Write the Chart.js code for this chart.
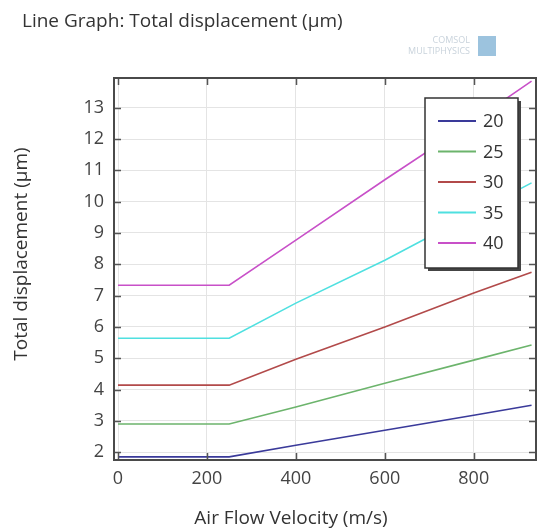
<!DOCTYPE html>
<html>
<head>
<meta charset="utf-8">
<script src="https://cdn.jsdelivr.net/npm/chart.js@4.4.0/dist/chart.umd.min.js"></script>
<style>
  html, body { margin: 0; padding: 0; background: #fff; }
  #wrap { width: 544px; height: 530px; position: relative; }
</style>
</head>
<body>
<div id="wrap"><canvas id="chart"></canvas></div>
<script>
const velocity = [0, 250, 400, 600, 800, 930];
const seriesNames = ['20', '25', '30', '35', '40'];
const disp20 = [1.85, 1.85, 2.22, 2.70, 3.18, 3.50];
const disp25 = [2.90, 2.90, 3.44, 4.20, 4.94, 5.42];
const disp30 = [4.14, 4.14, 4.97, 6.00, 7.08, 7.75];
const disp35 = [5.64, 5.64, 6.76, 8.13, 9.63, 10.60];
const disp40 = [7.33, 7.33, 8.77, 10.70, 12.58, 13.85];
const xTicks = [0, 200, 400, 600, 800];
const yTicks = [2, 3, 4, 5, 6, 7, 8, 9, 10, 11, 12, 13];
const colors = ['#3a3a9a', '#6cb46c', '#b24a4a', '#4fe0e0', '#c850c8'];

const allSeries = [disp20, disp25, disp30, disp35, disp40];
const datasets = allSeries.map((vals, i) => ({
  label: seriesNames[i],
  data: vals.map((v, j) => ({ x: velocity[j], y: v })),
  borderColor: colors[i],
  borderWidth: 1.6,
  pointRadius: 0,
  fill: false,
  tension: 0
}));

const fontFam = '"Open Sans", "DejaVu Sans", sans-serif';

// inward ticks on all four sides, frame, legend box, titles
const comsolDeco = {
  id: 'comsolDeco',
  afterDatasetsDraw(chart) {
    const ctx = chart.ctx;
    const a = chart.chartArea;
    const xs = chart.scales.x, ys = chart.scales.y;
    ctx.save();
    ctx.strokeStyle = '#555';
    ctx.lineWidth = 1.5;
    const tl = 7;
    xs.ticks.forEach(t => {
      const px = Math.round(xs.getPixelForValue(t.value)) + 0.5;
      ctx.beginPath();
      ctx.moveTo(px, a.bottom); ctx.lineTo(px, a.bottom - tl);
      ctx.moveTo(px, a.top); ctx.lineTo(px, a.top + tl);
      ctx.stroke();
    });
    ys.ticks.forEach(t => {
      const py = Math.round(ys.getPixelForValue(t.value)) + 0.5;
      ctx.beginPath();
      ctx.moveTo(a.left, py); ctx.lineTo(a.left + tl, py);
      ctx.moveTo(a.right, py); ctx.lineTo(a.right - tl, py);
      ctx.stroke();
    });
    // frame
    ctx.lineWidth = 2;
    ctx.strokeStyle = '#4a4a4a';
    ctx.strokeRect(a.left, a.top, a.right - a.left, a.bottom - a.top);

    // legend
    const lx = 425, ly = 98, lw = 93, lh = 170;
    ctx.fillStyle = '#444';
    ctx.fillRect(lx + 3, ly + 3, lw, lh);
    ctx.fillStyle = '#fff';
    ctx.fillRect(lx, ly, lw, lh);
    ctx.strokeStyle = '#333';
    ctx.lineWidth = 1.5;
    ctx.strokeRect(lx, ly, lw, lh);
    ctx.font = '18px ' + fontFam;
    ctx.textBaseline = 'middle';
    chart.data.datasets.forEach((ds, i) => {
      const ry = 121 + i * 30.5;
      ctx.strokeStyle = ds.borderColor;
      ctx.lineWidth = 2;
      ctx.beginPath();
      ctx.moveTo(438, ry); ctx.lineTo(476, ry);
      ctx.stroke();
      ctx.fillStyle = '#333';
      ctx.fillText(ds.label, 483, ry + 1);
    });

    // header
    ctx.fillStyle = '#333';
    ctx.textBaseline = 'alphabetic';
    ctx.font = '19px ' + fontFam;
    ctx.fillText('Line Graph: Total displacement (\u00b5m)', 22, 27);

    // axis titles
    ctx.textAlign = 'center';
    ctx.fillText('Air Flow Velocity (m/s)', 291, 524);
    ctx.save();
    ctx.translate(27, 254);
    ctx.rotate(-Math.PI / 2);
    ctx.fillText('Total displacement (\u00b5m)', 0, 0);
    ctx.restore();

    // logo
    ctx.fillStyle = '#c9d3dc';
    ctx.font = '9px ' + fontFam;
    ctx.textAlign = 'right';
    ctx.fillText('COMSOL', 470, 43);
    ctx.fillText('MULTIPHYSICS', 470, 54);
    ctx.fillStyle = '#9cc3de';
    ctx.fillRect(478, 36, 18, 20);
    ctx.restore();
  }
};

new Chart(document.getElementById('chart'), {
  type: 'line',
  data: { datasets: datasets },
  options: {
    responsive: true,
    maintainAspectRatio: false,
    animation: false,
    layout: { padding: { top: 78, right: 8, left: 0, bottom: 0 } },
    plugins: { legend: { display: false }, tooltip: { enabled: false } },
    scales: {
      x: {
        type: 'linear',
        min: -9,
        max: 940,
        ticks: {
          padding: 8,
          color: '#444',
          font: { family: fontFam, size: 18 }
        },
        afterBuildTicks: s => { s.ticks = xTicks.map(v => ({ value: v })); },
        grid: { color: '#e4e4e4', drawTicks: false },
        border: { display: false },
        afterFit: s => { s.height = 70; }
      },
      y: {
        type: 'linear',
        min: 1.75,
        max: 13.95,
        ticks: {
          padding: 10,
          color: '#444',
          font: { family: fontFam, size: 18 }
        },
        afterBuildTicks: s => { s.ticks = yTicks.map(v => ({ value: v })); },
        grid: { color: '#e4e4e4', drawTicks: false },
        border: { display: false },
        afterFit: s => { s.width = 114; }
      }
    }
  },
  plugins: [comsolDeco]
});
</script>
</body>
</html>
